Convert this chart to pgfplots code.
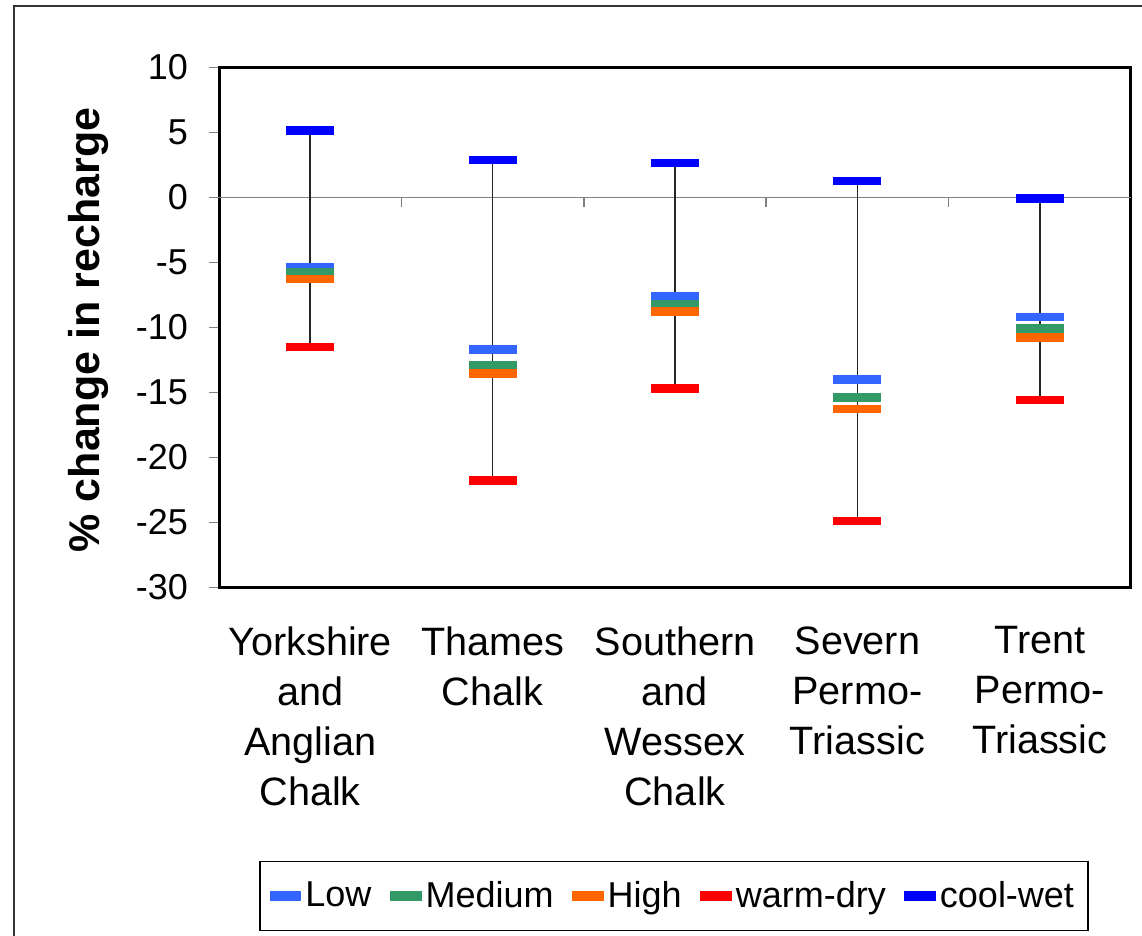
\documentclass[border=0pt]{standalone}
\usepackage{fontspec}
\setmainfont{Liberation Sans}
\usepackage{pgfplots}
\usepackage{pgfplotstable}
\pgfplotsset{compat=1.18}
\definecolor{cLow}{RGB}{51,102,255}
\definecolor{cMed}{RGB}{51,153,102}
\definecolor{cHigh}{RGB}{255,102,0}
\definecolor{cWarm}{RGB}{255,0,0}
\definecolor{cCool}{RGB}{0,0,255}
\pgfdeclareplotmark{hbar}{\pgfpathrectangle{\pgfqpoint{-12pt}{-2.125pt}}{\pgfqpoint{24pt}{4.25pt}}\pgfusepathqfill}

\pgfplotstableread{
x low medium high warmdry coolwet
0 -5.35 -5.8 -6.3 -11.5 5.14
1 -11.7 -12.9 -13.55 -21.8 2.86
2 -7.6 -8.2 -8.78 -14.7 2.63
3 -14.0 -15.4 -16.3 -24.9 1.25
4 -9.2 -10.1 -10.8 -15.6 -0.1
}\datatable

\begin{document}
\begin{tikzpicture}
\useasboundingbox (0,0) rectangle (571pt,468pt);
\draw[line width=1pt, black!80] (7pt,0) -- (7pt,464.75pt) -- (571pt,464.75pt);
\begin{axis}[
  at={(109.5pt,174.35pt)}, anchor=south west,
  scale only axis, width=456pt, height=260pt,
  xmin=-0.5, xmax=4.5, ymin=-30, ymax=10,
  ytick={-30,-25,...,10},
  yticklabels={-30,-25,-20,-15,-10,-5,0,5,10},
  ytick pos=left,
  xtick={0,1,2,3,4},
  xticklabels={{Yorkshire\\and\\Anglian\\Chalk},{Thames\\Chalk},{Southern\\and\\Wessex\\Chalk},{Severn\\Permo-\\Triassic},{Trent\\Permo-\\Triassic}},
  axis line style={line width=1.5pt},
  tick align=outside,
  x tick style={draw=none},
  y tick style={gray, line width=0.75pt},
  major tick length=5pt,
  yticklabel style={font=\fontsize{18}{25}\selectfont, xshift=-7pt},
  xticklabel style={font=\fontsize{19.8}{25}\selectfont, align=center, anchor=north, inner sep=0pt, yshift=-14.5pt},
  extra y ticks={0}, extra y tick labels={},
  extra y tick style={grid=major, major grid style={gray, line width=0.75pt}},
  clip=false,
  legend columns=5,
  legend style={at={(0.4989,-0.5937)}, anchor=center, draw=black, line width=0.75pt,
    font=\fontsize{18}{22}\selectfont, inner xsep=5pt, inner ysep=8pt,
    /tikz/every even column/.append style={column sep=7.3pt}},
  legend image code/.code={\fill (0pt,-2.25pt) rectangle (15pt,2.25pt);},
]
\addplot[forget plot, black!85, line width=0.75pt, unbounded coords=jump] coordinates {
 (0,5.14) (0,-11.5) (0,nan)
 (1,2.86) (1,-21.8) (1,nan)
 (2,2.63) (2,-14.7) (2,nan)
 (3,1.25) (3,-24.9) (3,nan)
 (4,-0.1) (4,-15.6)
};
\addplot[only marks, mark=hbar, color=cLow] table[x=x, y=low] {\datatable};
\addlegendentry{Low}
\addplot[only marks, mark=hbar, color=cMed] table[x=x, y=medium] {\datatable};
\addlegendentry{Medium}
\addplot[only marks, mark=hbar, color=cHigh] table[x=x, y=high] {\datatable};
\addlegendentry{High}
\addplot[only marks, mark=hbar, color=cWarm] table[x=x, y=warmdry] {\datatable};
\addlegendentry{warm-dry}
\addplot[only marks, mark=hbar, color=cCool] table[x=x, y=coolwet] {\datatable};
\addlegendentry{cool-wet}
\pgfplotsinvokeforeach{0.5,1.5,2.5,3.5}{\draw[gray, line width=0.75pt] (axis cs:#1,0) -- ++(0pt,-5pt);}
\end{axis}
\node[rotate=90, font=\fontsize{21.5}{26}\selectfont\bfseries] at (44pt,303pt) {\% change in recharge};
\end{tikzpicture}
\end{document}
